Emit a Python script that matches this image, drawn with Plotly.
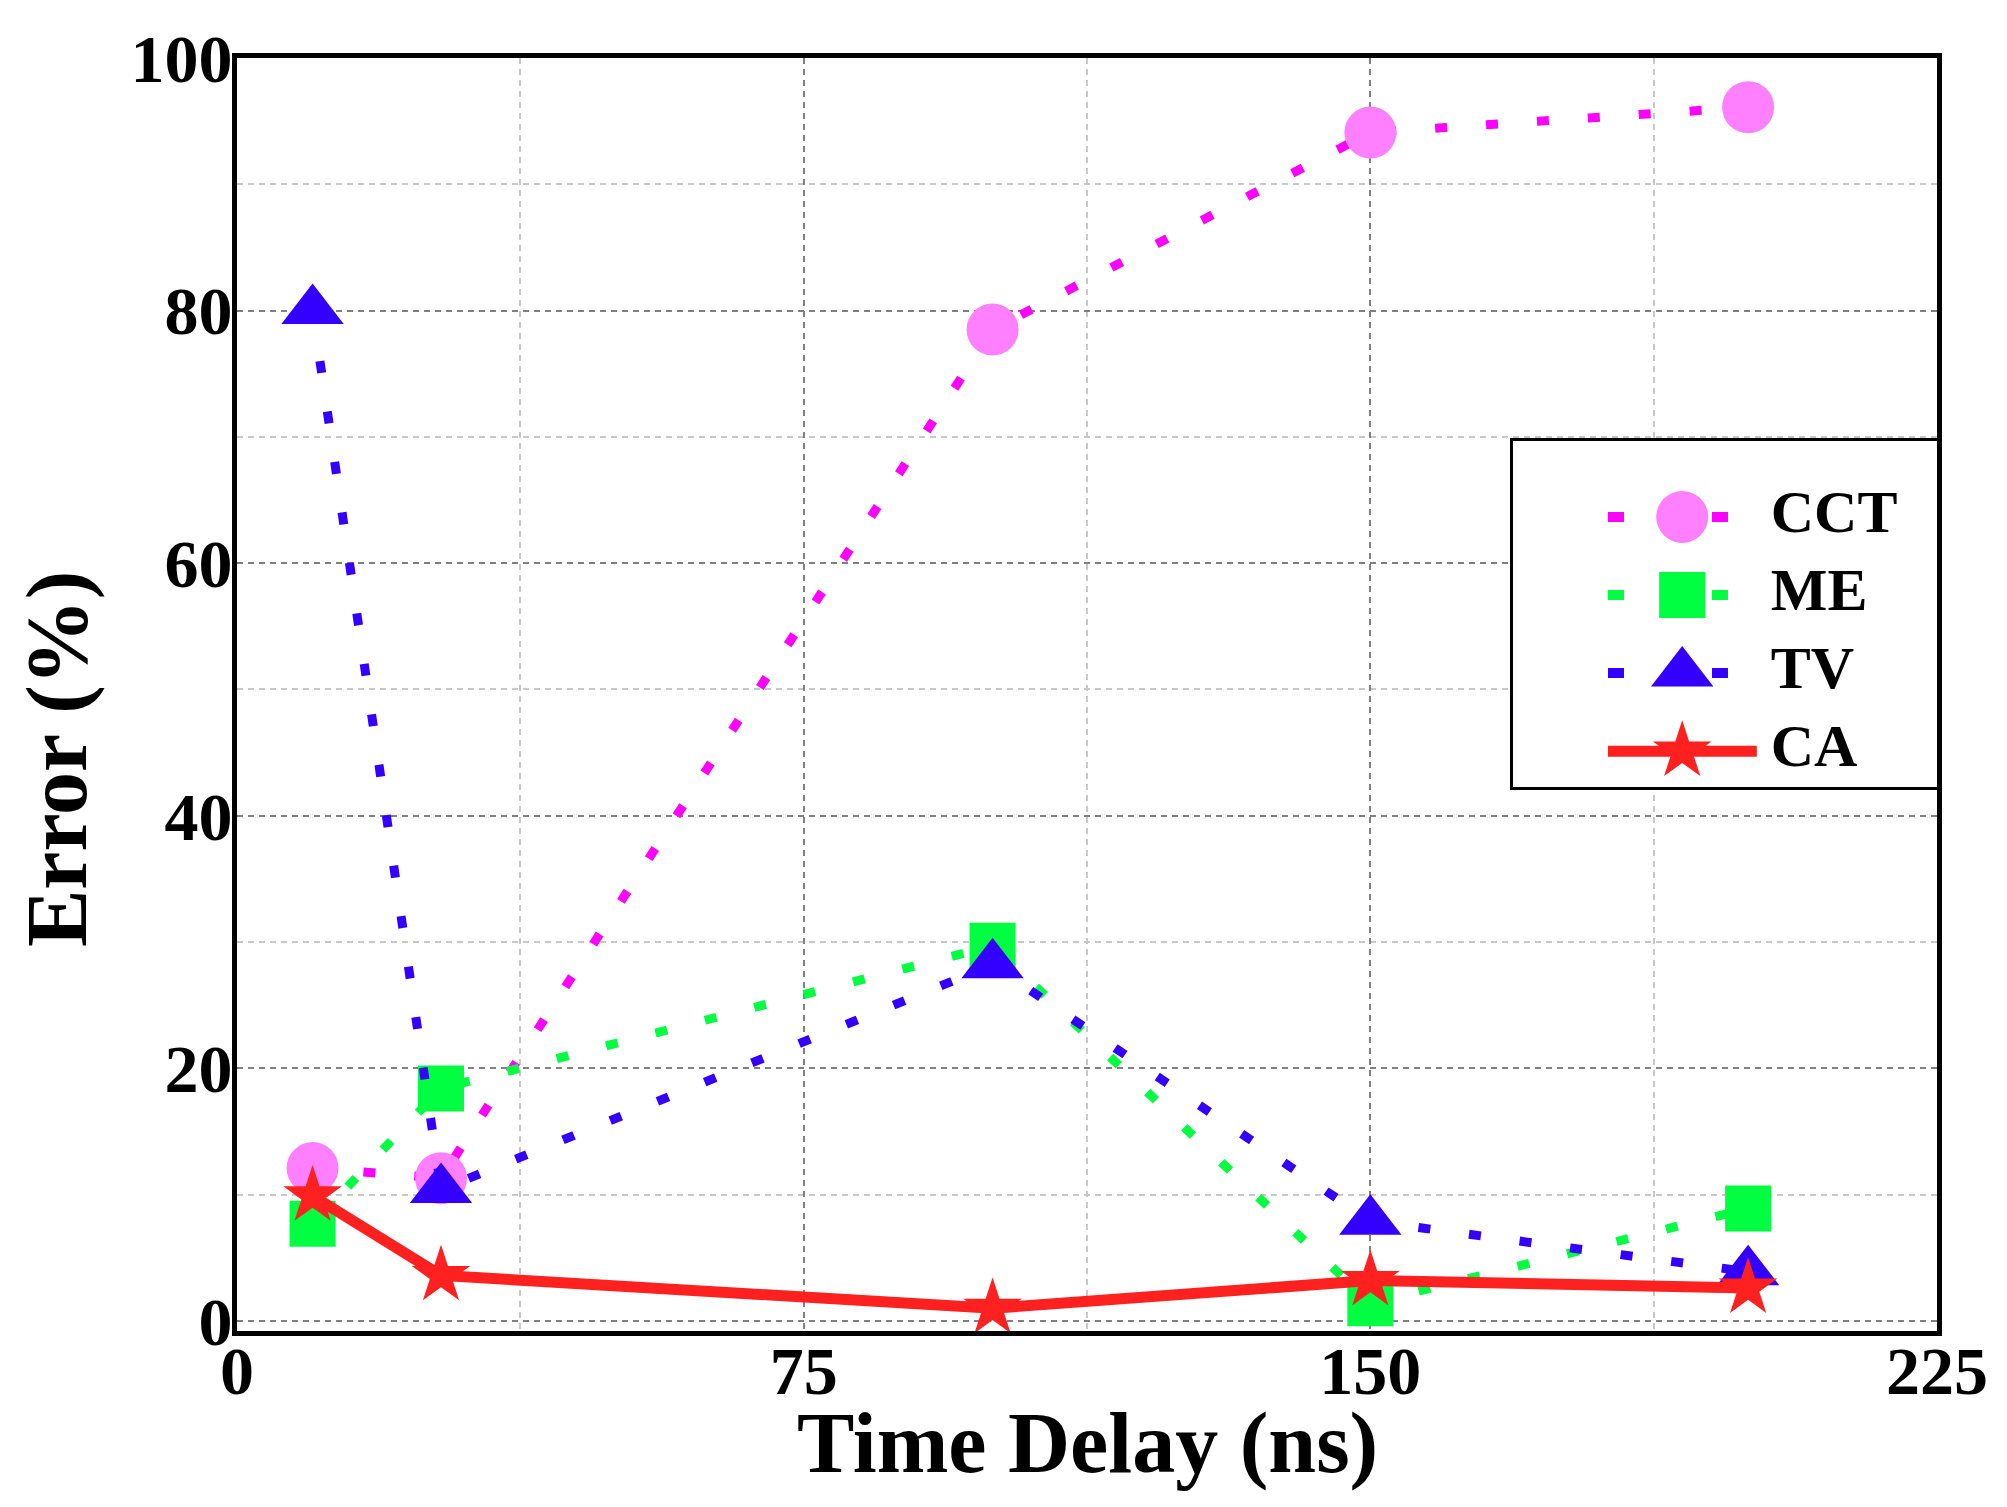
import plotly.graph_objects as go

# data
delay_ns = [10, 27, 100, 150, 200]
cct = [12.1, 11.3, 78.5, 94.1, 96.1]
me = [7.7, 18.4, 29.7, 1.4, 8.9]
tv = [80.0, 10.4, 28.2, 7.9, 3.9]
ca = [9.9, 3.6, 1.0, 3.2, 2.6]

names = ["CCT", "ME", "TV", "CA"]
series = [cct, me, tv, ca]

# styles
line_colors = ["#ff00ff", "#00ff40", "#3300ff", "#ff2020"]
marker_colors = ["#ff80ff", "#00ff40", "#3300ff", "#ff2020"]
symbols = ["circle", "square", "triangle-up", "star"]
sizes = [52, 46, 54, 44]
dotted = [True, True, True, False]

FONT = "Liberation Serif, Times New Roman, serif"

fig = go.Figure()

for name, ys, lc, mc, sym, sz, dt in zip(names, series, line_colors, marker_colors,
                                         symbols, sizes, dotted):
    fig.add_trace(go.Scatter(
        x=delay_ns, y=ys, name=name, mode="lines+markers",
        line=dict(color=lc, width=9 if dt else 11, dash="12px,39px" if dt else "solid"),
        marker=dict(symbol=sym, size=sz, color=mc, line=dict(width=0)),
        showlegend=False, cliponaxis=False,
    ))

# hand-made legend on a small overlay subplot (so markers keep their size)
LEG_Y = [-3.46, 0.97]
fig.add_trace(go.Scatter(
    x=[0, 1, 1, 0, 0], y=[LEG_Y[0], LEG_Y[0], LEG_Y[1], LEG_Y[1], LEG_Y[0]],
    xaxis="x2", yaxis="y2", mode="lines", fill="toself", fillcolor="white",
    line=dict(width=0), showlegend=False, hoverinfo="skip",
))
for i, (name, lc, mc, sym, sz, dt) in enumerate(zip(names, line_colors, marker_colors,
                                                    symbols, sizes, dotted)):
    row = -i
    if dt:
        fig.add_trace(go.Scatter(
            x=[0.224, 0.507], y=[row, row], xaxis="x2", yaxis="y2", mode="lines",
            line=dict(color=lc, width=10, dash="16px,88px"), showlegend=False,
        ))
    else:
        fig.add_trace(go.Scatter(
            x=[0.224, 0.575], y=[row, row], xaxis="x2", yaxis="y2", mode="lines",
            line=dict(color=lc, width=11), showlegend=False,
        ))
    fig.add_trace(go.Scatter(
        x=[0.399], y=[row], xaxis="x2", yaxis="y2", mode="markers",
        marker=dict(symbol=sym, size=sz, color=mc, line=dict(width=0)),
        showlegend=False,
    ))
fig.add_trace(go.Scatter(
    x=[0.608] * len(names), y=[-i for i in range(len(names))], text=names,
    xaxis="x2", yaxis="y2", mode="text", textposition="middle right",
    textfont=dict(family=FONT, size=60, color="black", weight="bold"),
    showlegend=False,
))

axis_common = dict(
    showline=True, linecolor="black", linewidth=5, mirror=True,
    ticks="", zeroline=False,
    showgrid=True, gridcolor="#808080", gridwidth=2, griddash="6px,5px",
    tickfont=dict(family=FONT, size=68, color="black", weight="bold"),
)

title_font = dict(family=FONT, size=86, color="black", weight="bold")

fig.update_layout(
    width=2007, height=1507,
    margin=dict(l=237, r=70, t=58, b=176),
    paper_bgcolor="white", plot_bgcolor="white",
    xaxis=dict(
        range=[0, 225], tickvals=[0, 75, 150, 225], ticklabelstandoff=-24,
        minor=dict(dtick=37.5, tick0=0, showgrid=True, gridcolor="#c8c8c8",
                   gridwidth=1.5, griddash="6px,5px"),
        **axis_common,
    ),
    yaxis=dict(
        range=[-0.8, 100], tickvals=[0, 20, 40, 60, 80, 100], ticklabelstandoff=-14,
        minor=dict(dtick=10, tick0=0, showgrid=True, gridcolor="#c8c8c8",
                   gridwidth=1.5, griddash="6px,5px"),
        **axis_common,
    ),
    xaxis2=dict(domain=[0.7506, 1.0], anchor="y2", range=[0, 1],
                showgrid=False, zeroline=False, showticklabels=False,
                showline=True, mirror=True, linecolor="black", linewidth=3,
                fixedrange=True),
    yaxis2=dict(domain=[0.4273, 0.699], anchor="x2", range=LEG_Y,
                showgrid=False, zeroline=False, showticklabels=False,
                showline=True, mirror=True, linecolor="black", linewidth=3,
                fixedrange=True),
    annotations=[
        dict(text="Error (%)", textangle=-90, xref="paper", yref="paper",
             x=-0.1059, y=0.450, xanchor="center", yanchor="middle",
             showarrow=False, font=title_font),
        dict(text="Time Delay (ns)", xref="paper", yref="paper",
             x=0.5, y=-0.0487, xanchor="center", yanchor="top",
             showarrow=False, font=title_font),
    ],
)

fig.write_html("out.html", config={"displayModeBar": False},
               post_script="document.body.style.margin='0';")
